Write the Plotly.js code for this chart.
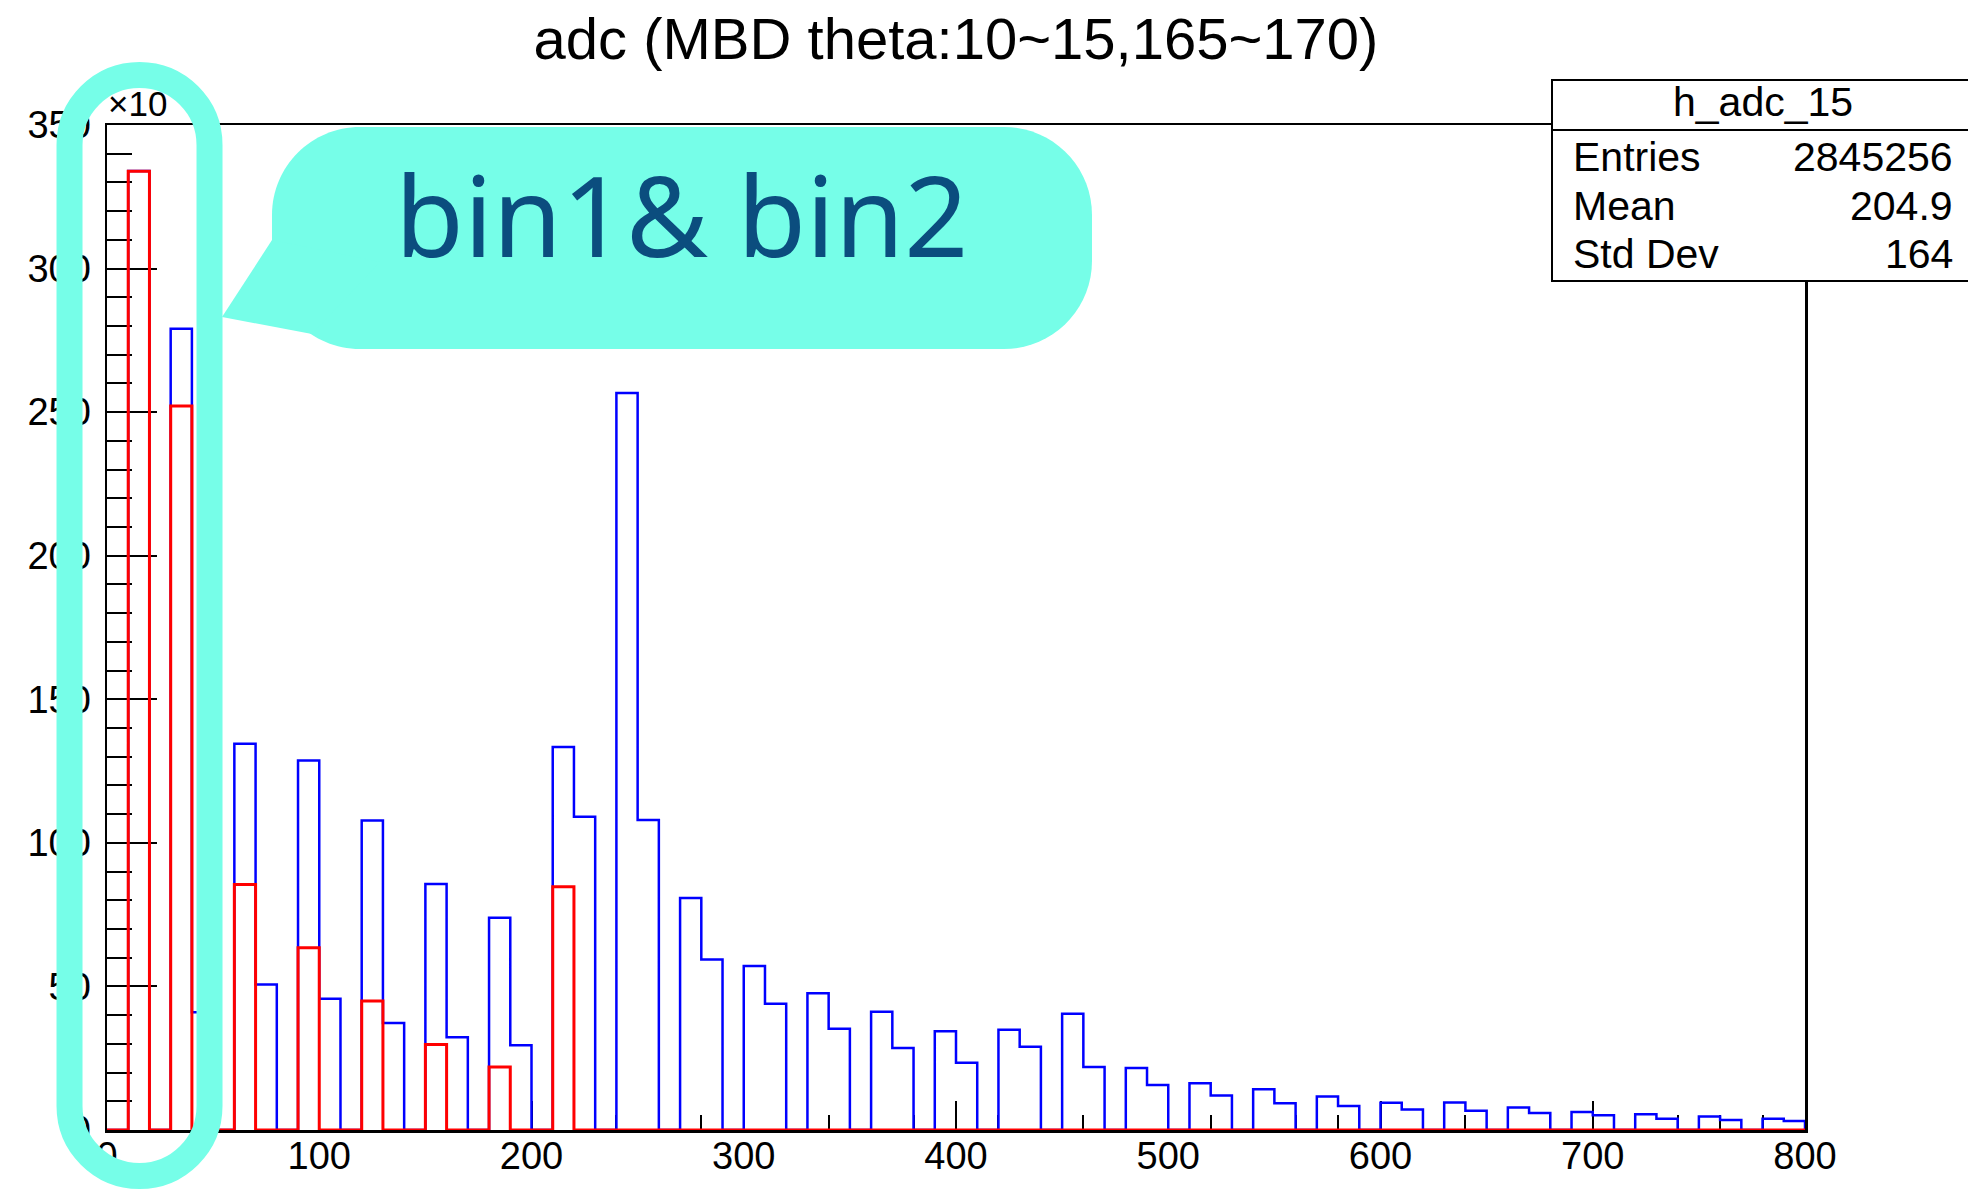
<!DOCTYPE html>
<html>
<head>
<meta charset="utf-8">
<script src="https://cdn.plot.ly/plotly-3.0.1.min.js"></script>
<style>
  html, body { margin: 0; padding: 0; background: #ffffff; }
  #chart { width: 1968px; height: 1189px; }
</style>
</head>
<body>
<div id="chart"></div>
<script>
// ---------------- data (counts in units of 10^3) ----------------
const histName = "h_adc_15";
const chartTitle = "adc (MBD theta:10~15,165~170)";
const binLow = 0;
const binWidth = 10;
const binCount = 80;

// blue histogram, bins [0,10), [10,20), ... [790,800)
const blueCounts = [
  0, 334, 0, 279, 41, 0, 134.5, 50.7, 0, 128.7,
  45.7, 0, 107.8, 37.3, 0, 85.7, 32.3, 0, 73.9, 29.5,
  0, 133.4, 109.1, 0, 256.7, 108.0, 0, 80.8, 59.4, 0,
  57.1, 44.0, 0, 47.6, 35.3, 0, 41.2, 28.6, 0, 34.4,
  23.4, 0, 34.9, 29.0, 0, 40.5, 21.9, 0, 21.6, 15.7,
  0, 16.3, 12.0, 0, 14.2, 9.3, 0, 11.7, 8.4, 0,
  9.5, 7.1, 0, 9.6, 6.7, 0, 7.8, 5.9, 0, 6.3,
  5.1, 0, 5.5, 3.9, 0, 4.7, 3.5, 0, 3.9, 3.1
];

// red histogram
const redCounts = [
  0, 333.9, 0, 252.1, 0, 0, 85.5, 0, 0, 63.5,
  0, 0, 44.9, 0, 0, 29.8, 0, 0, 21.9, 0,
  0, 84.7, 0, 0, 0, 0, 0, 0, 0, 0,
  0, 0, 0, 0, 0, 0, 0, 0, 0, 0,
  0, 0, 0, 0, 0, 0, 0, 0, 0, 0,
  0, 0, 0, 0, 0, 0, 0, 0, 0, 0,
  0, 0, 0, 0, 0, 0, 0, 0, 0, 0,
  0, 0, 0, 0, 0, 0, 0, 0, 0, 0
];

const xTickVals = [0, 100, 200, 300, 400, 500, 600, 700, 800];
const yTickVals = [0, 50, 100, 150, 200, 250, 300, 350];

const statLabels = ["Entries", "Mean", "Std Dev"];
const statValues = ["2845256", "204.9", "164"];
const calloutText = "bin1& bin2";
const yExponentText = "\u00d710";

// ---------------- helpers ----------------
function stepLine(counts) {
  const xs = [binLow], ys = [0];
  for (let i = 0; i < counts.length; i++) {
    xs.push(binLow + i * binWidth);
    ys.push(counts[i]);
  }
  const end = binLow + counts.length * binWidth;
  xs.push(end); ys.push(counts[counts.length - 1]);
  xs.push(end); ys.push(0);
  return {xs, ys};
}

// page-pixel -> paper conversion (plot area: x 107..1805, y 125..1130)
const W = 1968, H = 1189;
const M = {l: 107, r: 163, t: 125, b: 59};
const PW = W - M.l - M.r, PH = H - M.t - M.b;
const px = X => (X - M.l) / PW;
const py = Y => (H - M.b - Y) / PH;
const P = (X, Y) => px(X).toFixed(5) + "," + py(Y).toFixed(5);

function roundRectPath(x0, y0, x1, y1, r) {
  const k = 0.5523 * r;
  return "M" + P(x0 + r, y0) +
    " L" + P(x1 - r, y0) +
    " C" + P(x1 - r + k, y0) + " " + P(x1, y0 + r - k) + " " + P(x1, y0 + r) +
    " L" + P(x1, y1 - r) +
    " C" + P(x1, y1 - r + k) + " " + P(x1 - r + k, y1) + " " + P(x1 - r, y1) +
    " L" + P(x0 + r, y1) +
    " C" + P(x0 + r - k, y1) + " " + P(x0, y1 - r + k) + " " + P(x0, y1 - r) +
    " L" + P(x0, y0 + r) +
    " C" + P(x0, y0 + r - k) + " " + P(x0 + r - k, y0) + " " + P(x0 + r, y0) +
    " Z";
}

const blue = stepLine(blueCounts);
const red = stepLine(redCounts);

const FONT = "Liberation Sans, Arial, Helvetica, sans-serif";
const CYAN = "#76fee8";

const traces = [
  {
    type: "scatter", mode: "lines", x: blue.xs, y: blue.ys,
    line: {shape: "hv", color: "#0000ff", width: 2.5},
    hoverinfo: "skip", showlegend: false
  },
  {
    type: "scatter", mode: "lines", x: red.xs, y: red.ys,
    line: {shape: "hv", color: "#ff0000", width: 3},
    hoverinfo: "skip", showlegend: false
  }
];

const shapes = [
  // stats box
  {type: "rect", xref: "paper", yref: "paper", x0: px(1552), x1: px(1980), y0: py(281), y1: py(80),
   fillcolor: "#ffffff", line: {color: "#000000", width: 2}, layer: "above"},
  {type: "line", xref: "paper", yref: "paper", x0: px(1552), x1: px(1980), y0: py(130), y1: py(130),
   line: {color: "#000000", width: 2}, layer: "above"},
  // callout bubble
  {type: "path", xref: "paper", yref: "paper", path: roundRectPath(272, 127, 1092, 349, 88),
   fillcolor: CYAN, line: {width: 0}, layer: "above"},
  {type: "path", xref: "paper", yref: "paper",
   path: "M" + P(222, 317) + " L" + P(272, 240) + " L" + P(380, 262) + " L" + P(312, 334) + " Z",
   fillcolor: CYAN, line: {width: 0}, layer: "above"},
  // highlight ring around bin1 & bin2
  {type: "path", xref: "paper", yref: "paper", path: roundRectPath(69.5, 75, 209.5, 1176, 70),
   fillcolor: "rgba(0,0,0,0)", line: {color: CYAN, width: 26}, layer: "above"}
];

const annotations = [
  {xref: "paper", yref: "paper", x: px(1763), y: py(102), text: histName, showarrow: false,
   xanchor: "center", yanchor: "middle", font: {family: FONT, size: 41, color: "#000"}},
  {xref: "paper", yref: "paper", x: px(106), y: py(104), text: yExponentText, showarrow: false,
   xanchor: "left", yanchor: "middle", font: {family: FONT, size: 35, color: "#000"}},
  {xref: "paper", yref: "paper", x: px(681), y: py(214), text: calloutText, showarrow: false,
   xanchor: "center", yanchor: "middle", font: {family: "Noto Sans, sans-serif", size: 112, color: "#0b4d7e"}}
];
const statRowsY = [157, 206, 254];
statLabels.forEach((lab, i) => {
  annotations.push({xref: "paper", yref: "paper", x: px(1571), y: py(statRowsY[i]), text: lab,
    showarrow: false, xanchor: "left", yanchor: "middle", font: {family: FONT, size: 41, color: "#000"}});
  annotations.push({xref: "paper", yref: "paper", x: px(1955), y: py(statRowsY[i]), text: statValues[i],
    showarrow: false, xanchor: "right", yanchor: "middle", font: {family: FONT, size: 41, color: "#000"}});
});

const layout = {
  width: W, height: H,
  margin: M,
  paper_bgcolor: "#ffffff", plot_bgcolor: "#ffffff",
  showlegend: false,
  title: {text: chartTitle, font: {family: FONT, size: 58, color: "#000"},
          xref: "paper", x: 0.5, xanchor: "center", yref: "container", y: 1 - 39 / H, yanchor: "middle"},
  xaxis: {
    range: [0, 800], tickvals: xTickVals, ticktext: xTickVals.map(String),
    ticks: "inside", ticklen: 29, tickwidth: 2, tickcolor: "#000",
    minor: {dtick: 20, ticks: "inside", ticklen: 15, tickwidth: 2, tickcolor: "#000"},
    showline: true, linecolor: "#000", linewidth: 2.5, mirror: true,
    showgrid: false, zeroline: false, layer: "below traces",
    ticklabelstandoff: -9,
    tickfont: {family: FONT, size: 38, color: "#000"}, fixedrange: true
  },
  yaxis: {
    range: [0, 350], tickvals: yTickVals, ticktext: yTickVals.map(String),
    ticks: "inside", ticklen: 50, tickwidth: 2, tickcolor: "#000",
    minor: {dtick: 10, ticks: "inside", ticklen: 25, tickwidth: 2, tickcolor: "#000"},
    showline: true, linecolor: "#000", linewidth: 2.5, mirror: true,
    showgrid: false, zeroline: false, layer: "below traces",
    ticklabelstandoff: 6,
    tickfont: {family: FONT, size: 38, color: "#000"}, fixedrange: true
  },
  shapes: shapes,
  annotations: annotations
};

Plotly.newPlot("chart", traces, layout, {displayModeBar: false, staticPlot: true});
</script>
</body>
</html>
